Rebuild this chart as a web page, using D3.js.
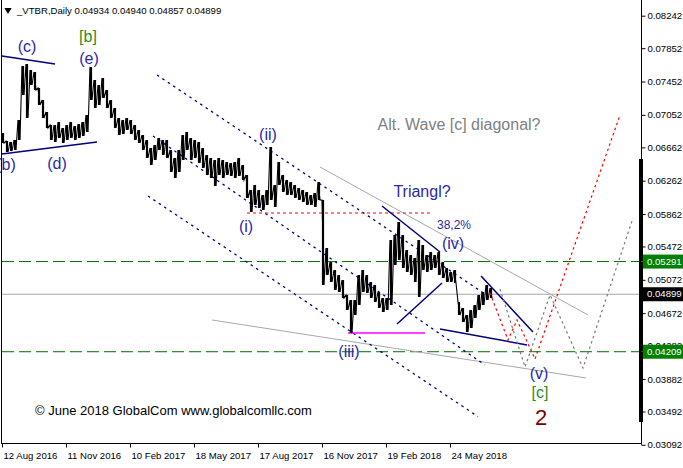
<!DOCTYPE html>
<html><head><meta charset="utf-8">
<script src="https://cdn.jsdelivr.net/npm/d3@7"></script>
<style>body{margin:0;background:#fff} svg{display:block}</style>
</head><body>
<svg id="c" width="683" height="468"></svg>
<script>
// ---------------- DATA ----------------
const symbol = "_VTBR,Daily";
const lastOHLC = [0.04934, 0.04940, 0.04857, 0.04899];
const dateTickBars = [0, 64, 128, 192, 256, 320, 384, 448];
const dateTickLabels = ["12 Aug 2016","11 Nov 2016","10 Feb 2017","18 May 2017","17 Aug 2017","16 Nov 2017","19 Feb 2018","24 May 2018"];
const priceTicks = [0.08242,0.07852,0.07452,0.07052,0.06662,0.06262,0.05862,0.05472,0.05072,0.04672,0.04282,0.03882,0.03492,0.03092];
const sampleStep = 4; // trading days per sample
const highs = [0.06834,0.06738,0.06726,0.0675,0.0699,0.07638,0.07662,0.0759,0.07566,0.07374,0.0723,0.07086,0.0693,0.0693,0.06966,0.06894,0.0693,0.06966,0.06918,0.06942,0.06966,0.0705,0.07626,0.0747,0.0741,0.07494,0.0735,0.0723,0.07134,0.07014,0.0699,0.07014,0.0699,0.0693,0.0687,0.0681,0.0675,0.06654,0.0669,0.06774,0.0675,0.0675,0.0663,0.06534,0.0663,0.0681,0.06846,0.06774,0.0675,0.06726,0.06654,0.0657,0.06534,0.0651,0.06534,0.0651,0.06486,0.06474,0.06486,0.06534,0.0645,0.0633,0.0615,0.0621,0.0615,0.0609,0.0615,0.06666,0.0621,0.06486,0.0633,0.0627,0.06246,0.0621,0.06174,0.0615,0.06126,0.0609,0.06114,0.06246,0.0603,0.05454,0.05286,0.0519,0.0513,0.0507,0.0489,0.0483,0.0483,0.0513,0.0519,0.0513,0.05046,0.0501,0.04926,0.04854,0.04854,0.0555,0.0561,0.05766,0.0561,0.0543,0.0537,0.05334,0.0555,0.0549,0.0537,0.05406,0.0537,0.05406,0.05286,0.05214,0.05166,0.0519,0.04806,0.04734,0.0465,0.0471,0.0477,0.0489,0.04926,0.0501,0.04974];
const lows  = [0.06714,0.06606,0.06618,0.0663,0.0675,0.0729,0.07014,0.0741,0.0735,0.0717,0.07014,0.06894,0.0675,0.06726,0.06774,0.06714,0.0675,0.06774,0.0675,0.06774,0.06798,0.06846,0.0723,0.07134,0.0717,0.07254,0.07134,0.07014,0.06894,0.0681,0.06822,0.0687,0.06822,0.0675,0.06714,0.0663,0.06534,0.0645,0.0651,0.0663,0.0657,0.06534,0.06366,0.06294,0.06366,0.0651,0.0663,0.0651,0.06534,0.06474,0.06414,0.0633,0.06294,0.06198,0.0633,0.06294,0.0633,0.06318,0.06294,0.06318,0.0627,0.06054,0.05886,0.0597,0.05934,0.0591,0.0597,0.0603,0.05946,0.0621,0.06126,0.0609,0.0609,0.06054,0.0603,0.06006,0.0597,0.0597,0.05946,0.0603,0.0501,0.0513,0.05046,0.0495,0.04926,0.04854,0.0471,0.04434,0.0465,0.0477,0.04926,0.04914,0.04854,0.04806,0.04734,0.04686,0.0471,0.0477,0.0525,0.0531,0.05214,0.05166,0.0513,0.05046,0.04866,0.0519,0.05166,0.0519,0.05214,0.0513,0.05094,0.05046,0.05046,0.05034,0.0465,0.04566,0.04446,0.04494,0.04614,0.0471,0.0477,0.0483,0.04854];

// horizontal levels
const levelGreen = [0.05291, 0.04209];
const levelLast = 0.04899;

// drawn objects: [bar, price] endpoints
const navyLines = [
  [[0,0.07758],[53,0.07662]],
  [[0,0.06582],[95,0.06726]],
  [[380,0.05958],[438,0.05406]],
  [[395,0.04542],[440,0.05034]],
  [[438,0.04482],[525,0.0429]],
  [[479,0.05118],[531,0.04446]]
];
const channelLines = [
  [[155,0.0753],[486,0.04878]],
  [[151,0.06798],[483,0.0405]],
  [[146,0.06078],[476,0.0343]]
];
const grayLines = [
  [[318,0.06426],[586,0.0465]],
  [[210,0.0459],[584,0.03894]]
];
const magentaLine = [[346,0.04434],[423,0.04434]];
const redDashLine = [[245,0.05874],[428,0.05874]];
const redPath = [[488,0.04914],[506,0.0435],[515,0.0459],[533,0.04122],[618,0.0705]];
const grayPath = [[498,0.04962],[523,0.04026],[548,0.0489],[581,0.04014],[631,0.05814]];

// labels: [text, bar, price, colorKey, size]
const waveLabels = [
  ["(c)", 25, 0.07806, "blue", 16],
  ["[b]", 86, 0.07926, "green", 16],
  ["(e)", 87, 0.07662, "blue", 16],
  ["(d)", 55, 0.0640, "blue", 16],
  ["(b)", 4, 0.0639, "blue", 16],
  ["(ii)", 266, 0.0675, "blue", 16],
  ["(i)", 244, 0.05646, "blue", 16],
  ["(iii)", 347, 0.04146, "blue", 16],
  ["(iv)", 451, 0.05442, "blue", 16],
  ["(v)", 537, 0.03882, "blue", 16],
  ["[c]", 538, 0.0365, "green", 16],
  ["2", 539, 0.0333, "darkred", 22],
  ["Triangl?", 420, 0.06066, "blue", 16],
  ["38,2%", 452, 0.05682, "blue", 12],
  ["Alt. Wave [c] diagonal?", 457, 0.0687, "gray", 16]
];
const copyright = "© June 2018 GlobalCom www.globalcomllc.com";

// ---------------- CHART ----------------
const plotL = 2, plotR = 641, plotB = 443;
const svg = d3.select("#c");
const FONT = "'Liberation Sans', Arial, sans-serif";
const AXF = 9.6;
const colors = {blue:"#2a2aa6", green:"#2a8f1a", darkred:"#7a0000", gray:"#808080"};

const x = d3.scaleLinear().domain([0, 639]).range([plotL, plotR]);
const y = d3.scaleLinear().domain([0.03092, 0.08242]).range([444.8, 15.7]);

const g = svg.append("g");
const seg = (pts, stroke, width, dash) => g.append("path")
  .attr("d", d3.line().x(d => x(d[0])).y(d => y(d[1]))(pts))
  .attr("fill","none").attr("stroke",stroke).attr("stroke-width",width)
  .attr("stroke-dasharray", dash || null);

// horizontal levels
levelGreen.forEach(v => seg([[0,v],[639,v]], "#006e00", 1, "12,5"));
seg([[0,levelLast],[639,levelLast]], "#a8a8a8", 1);

// gray trend lines
grayLines.forEach(l => seg(l, "#a8a8a8", 1));
// channels
channelLines.forEach(l => seg(l, "#00007a", 1.3, "2.5,4"));
// red dashed
seg(redDashLine, "#ff0000", 1, "3,3");
// magenta
seg(magentaLine, "#ff00ff", 1.5);

// price: range bars + connecting zigzag
const pts = [];
highs.forEach((h, i) => {
  const b = i * sampleStep;
  pts.push([b, h]);
  pts.push([b + 2, lows[i]]);
});
g.append("path")
  .attr("d", d3.line().x(d => x(d[0])).y(d => y(d[1]))(pts))
  .attr("fill","none").attr("stroke","#000").attr("stroke-width",1.1);
g.selectAll("line.bar").data(highs).join("line").attr("class","bar")
  .attr("x1", (d, i) => x(i * sampleStep + 1)).attr("x2", (d, i) => x(i * sampleStep + 1))
  .attr("y1", d => y(d)).attr("y2", (d, i) => y(lows[i]))
  .attr("stroke","#000").attr("stroke-width",2.2);

// navy solid lines
navyLines.forEach(l => seg(l, "#000080", 1.5));
// projections
seg(redPath, "#ff0000", 1.2, "2.5,3");
seg(grayPath, "#7a7a7a", 1.2, "2.5,3");

// labels
waveLabels.forEach(([t, b, p, c, s]) => {
  g.append("text").attr("x", x(b)).attr("y", y(p))
    .attr("text-anchor","middle").attr("font-family",FONT)
    .attr("font-size", s).attr("fill", colors[c]).text(t);
});
g.append("text").attr("x", 35).attr("y", 415).attr("font-family",FONT)
  .attr("font-size",13).attr("fill","#000").text(copyright);

// frame
svg.append("line").attr("x1",1.5).attr("x2",1.5).attr("y1",0).attr("y2",plotB).attr("stroke","#000");
svg.append("line").attr("x1",1).attr("x2",plotR).attr("y1",plotB+0.5).attr("y2",plotB+0.5).attr("stroke","#000");
svg.append("line").attr("x1",plotR+0.5).attr("x2",plotR+0.5).attr("y1",0).attr("y2",y(0.03092)).attr("stroke","#000");
svg.append("rect").attr("x",639).attr("y",159).attr("width",4).attr("height",263).attr("fill","#000");

// right axis
const yAxis = d3.axisRight(y).tickValues(priceTicks).tickSize(4).tickFormat(d3.format(".5f"));
const ya = svg.append("g").attr("transform",`translate(${plotR+0.5},0)`).call(yAxis);
ya.select(".domain").remove();
ya.selectAll("text").attr("font-family",FONT).attr("font-size",AXF).attr("fill","#000").attr("x",6);

// value boxes
const box = (v, bg) => {
  const yy = y(v);
  svg.append("rect").attr("x",643).attr("y",yy-7).attr("width",40).attr("height",14).attr("fill",bg);
  svg.append("text").attr("x",647).attr("y",yy).attr("dy","0.33em").attr("font-family",FONT)
    .attr("font-size",AXF).attr("fill","#fff").text(d3.format(".5f")(v));
  svg.append("line").attr("x1",641).attr("x2",645).attr("y1",yy).attr("y2",yy).attr("stroke",bg);
};
box(levelGreen[0], "#008000");
box(levelLast, "#000");
box(levelGreen[1], "#008000");

// bottom axis
const xAxis = d3.axisBottom(x).tickValues(dateTickBars).tickSize(4)
  .tickFormat((d, i) => dateTickLabels[i]);
const xa = svg.append("g").attr("transform",`translate(0,${plotB+0.5})`).call(xAxis);
xa.select(".domain").remove();
xa.selectAll("text").attr("font-family",FONT).attr("font-size",AXF).attr("fill","#000")
  .attr("text-anchor","start").attr("x",1).attr("y",9);

// header
svg.append("path").attr("d", d3.symbol().type(d3.symbolTriangle).size(22)())
  .attr("transform","translate(8,10) rotate(180)").attr("fill","#000");
svg.append("text").attr("x",17).attr("y",14).attr("font-family",FONT).attr("font-size",AXF)
  .attr("fill","#000").text(symbol + "  " + lastOHLC.map(d3.format(".5f")).join(" "));
</script>
</body></html>
